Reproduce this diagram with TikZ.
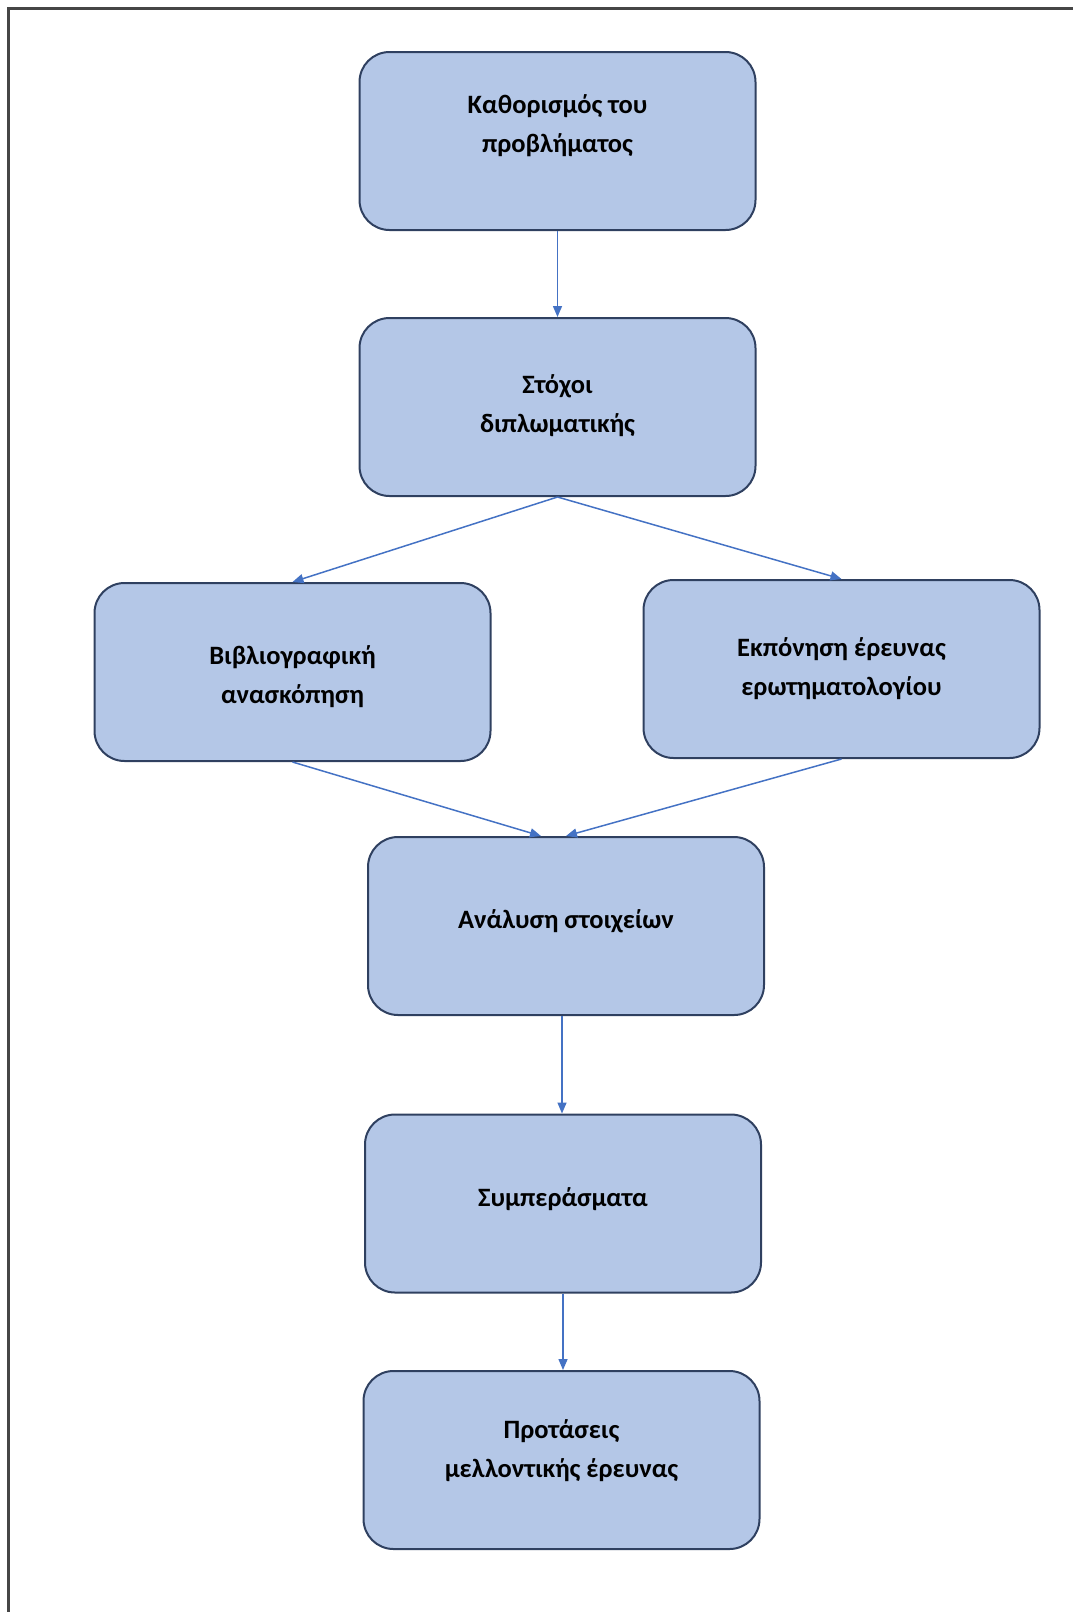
\documentclass[tikz,border=0pt]{standalone}
\usepackage{fontspec}
\setmainfont{Carlito}
\usepackage{tikz}
\usetikzlibrary{arrows.meta}
\definecolor{boxfill}{RGB}{180,199,231}
\definecolor{boxline}{RGB}{47,64,96}
\definecolor{arrowblue}{RGB}{68,114,196}
\definecolor{framegray}{RGB}{70,70,70}
\tikzset{
    stage/.style={draw=boxline, fill=boxfill, line width=2pt, rounded corners=30pt,
        minimum width=396pt, minimum height=178pt, inner sep=0pt},
    stagetext/.style={align=center, font=\fontsize{26.5}{39}\selectfont\bfseries, text=black},
    flow/.style={draw=arrowblue, line width=1.5pt, -{Triangle[length=11pt, width=9pt]}}
}

\begin{document}
\begin{tikzpicture}[x=1pt, y=-1pt]
        \useasboundingbox (0,0) rectangle (1073,1612);
        \draw[framegray, line width=2.5pt] (1073,8.5) -- (8.5,8.5) -- (8.5,1612);

        \node[stage] (orismos) at (557.5,141) {};
        \node[stage] (stoxoi) at (557.5,407) {};
        \node[stage] (biblio) at (292.5,672) {};
        \node[stage] (erevna) at (841.5,669) {};
        \node[stage] (analysi) at (566,926) {};
        \node[stage] (sympera) at (563,1203.5) {};
        \node[stage] (protaseis) at (561.5,1460) {};

        \node[stagetext] (t1) at ([yshift=15pt]orismos) {Καθορισμός του\\προβλήματος};
        \node[stagetext] (t2) at ([yshift=1pt]stoxoi) {Στόχοι\\διπλωματικής};
        \node[stagetext] (t3) at ([yshift=-5pt]biblio) {Βιβλιογραφική\\ανασκόπηση};
        \node[stagetext] (t4) at (erevna) {Εκπόνηση έρευνας\\ερωτηματολογίου};
        \node[stagetext] (t5) at ([yshift=5pt]analysi) {Ανάλυση στοιχείων};
        \node[stagetext] (t6) at ([yshift=4.5pt]sympera) {Συμπεράσματα};
        \node[stagetext] (t7) at ([yshift=9pt]protaseis) {Προτάσεις\\μελλοντικής έρευνας};

        \coordinate (meet) at ([xshift=-25pt]analysi.north);

        \draw[flow] (orismos) -- (stoxoi);
        \draw[flow] (stoxoi.south) -- (biblio.north);
        \draw[flow] (stoxoi.south) -- (erevna.north);
        \draw[flow] (biblio.south) -- (meet);
        \draw[flow] (erevna.south) -- (analysi.north);
        \draw[flow] ([xshift=-4pt]analysi.south) -- ([xshift=-4pt]analysi.south |- sympera.north);
        \draw[flow] (sympera.south) -- (sympera.south |- protaseis.north);
    \end{tikzpicture}
\end{document}
